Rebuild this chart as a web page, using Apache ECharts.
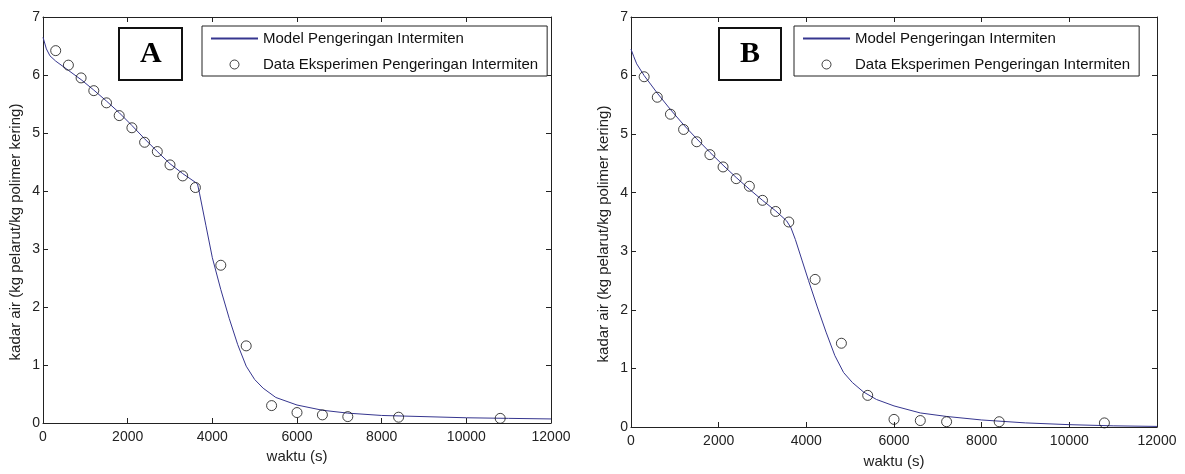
<!DOCTYPE html>
<html>
<head>
<meta charset="utf-8">
<script src="https://cdn.jsdelivr.net/npm/echarts@6.0.0/dist/echarts.min.js"></script>
<style>
  html, body { margin: 0; padding: 0; background: #fff; }
  #chart { width: 1185px; height: 474px; }
</style>
</head>
<body>
<div id="chart"></div>
<script>
// experiment data (same sampling times for A and B)
const dataTime = [300, 600, 900, 1200, 1500, 1800, 2100, 2400, 2700, 3000, 3300, 3600, 4200, 4800, 5400, 6000, 6600, 7200, 8400, 10800]
const dataA = [6.42, 6.17, 5.95, 5.73, 5.52, 5.30, 5.09, 4.84, 4.68, 4.45, 4.26, 4.06, 2.72, 1.33, 0.30, 0.18, 0.14, 0.11, 0.10, 0.08]
const dataB = [5.98, 5.63, 5.34, 5.08, 4.87, 4.65, 4.44, 4.24, 4.11, 3.87, 3.68, 3.50, 2.52, 1.43, 0.54, 0.13, 0.11, 0.09, 0.09, 0.07]

// model curves
const modelTimeA = [0, 80, 165, 300, 600, 900, 1200, 1500, 1800, 2100, 2400, 2700, 3000, 3300, 3600, 3650, 3700, 3850, 4000, 4200, 4400, 4600, 4800, 5000, 5200, 5500, 6000, 6600, 7200, 8000, 9000, 10000, 11000, 12000]
const modelA = [6.65, 6.45, 6.33, 6.24, 6.08, 5.92, 5.74, 5.55, 5.35, 5.13, 4.90, 4.68, 4.47, 4.30, 4.15, 4.12, 3.95, 3.40, 2.85, 2.30, 1.80, 1.35, 0.98, 0.75, 0.60, 0.44, 0.31, 0.22, 0.17, 0.13, 0.11, 0.09, 0.08, 0.07]
const modelTimeB = [0, 60, 130, 300, 600, 900, 1200, 1500, 1800, 2100, 2400, 2700, 3000, 3300, 3550, 3650, 3750, 3900, 4050, 4250, 4450, 4650, 4850, 5050, 5300, 5600, 6000, 6600, 7200, 8000, 9000, 10000, 11000, 12000]
const modelB = [6.45, 6.33, 6.20, 6.00, 5.70, 5.42, 5.16, 4.92, 4.69, 4.47, 4.26, 4.06, 3.87, 3.69, 3.52, 3.40, 3.20, 2.85, 2.50, 2.05, 1.62, 1.22, 0.93, 0.76, 0.60, 0.47, 0.36, 0.24, 0.18, 0.12, 0.07, 0.04, 0.02, 0.01]

const panelLabels = ['A', 'B']
const modelName = 'Model Pengeringan Intermiten'
const dataName = 'Data Eksperimen Pengeringan Intermiten'
const xName = 'waktu (s)'
const yName = 'kadar air (kg pelarut/kg polimer kering)'

const pairs = (xs, ys) => xs.map((x, i) => [x, ys[i]])

const font = 'Liberation Sans, Arial, sans-serif'
const lineColor = '#36368f'
const textColor = '#222'

const chart = echarts.init(document.getElementById('chart'))

const grids = [
  { left: 43, top: 17, width: 508, height: 406 },
  { left: 631, top: 17, width: 526, height: 413 }
]

const nameStyle = { color: textColor, fontSize: 15, fontFamily: font }

const baseX = (gridIndex, position, showLabel) => ({
  type: 'value',
  gridIndex,
  position,
  min: 0,
  max: 12000,
  interval: 2000,
  axisLine: { show: true, onZero: false, lineStyle: { color: '#222', width: 1 } },
  axisTick: { show: true, inside: true, length: 5, lineStyle: { color: '#222' } },
  splitLine: { show: false },
  axisLabel: { show: showLabel, color: textColor, fontSize: 14, fontFamily: font, margin: 7, formatter: v => String(v) }
})

const baseY = (gridIndex, position, showLabel) => ({
  type: 'value',
  gridIndex,
  position,
  min: 0,
  max: 7,
  interval: 1,
  axisLine: { show: true, onZero: false, lineStyle: { color: '#222', width: 1 } },
  axisTick: { show: true, inside: true, length: 5, lineStyle: { color: '#222' } },
  splitLine: { show: false },
  axisLabel: { show: showLabel, color: textColor, fontSize: 14, fontFamily: font, margin: 3 }
})

const xAxes = [
  Object.assign(baseX(0, 'bottom', true), { name: xName, nameLocation: 'middle', nameGap: 24, nameTextStyle: nameStyle }),
  Object.assign(baseX(1, 'bottom', true), { name: xName, nameLocation: 'middle', nameGap: 27, nameTextStyle: nameStyle }),
  baseX(0, 'top', false),
  baseX(1, 'top', false)
]

// y names sit a little below the axis middle in the original
const yNameStyle = Object.assign({ padding: [0, 24, 0, 0] }, nameStyle)

const yAxes = [
  Object.assign(baseY(0, 'left', true), { name: yName, nameLocation: 'middle', nameRotate: 90, nameGap: 20, nameTextStyle: yNameStyle }),
  Object.assign(baseY(1, 'left', true), { name: yName, nameLocation: 'middle', nameRotate: 90, nameGap: 20, nameTextStyle: yNameStyle }),
  baseY(0, 'right', false),
  baseY(1, 'right', false)
]

const legendBase = {
  orient: 'vertical',
  selectedMode: false,
  itemWidth: 47,
  itemHeight: 9,
  itemGap: 11,
  backgroundColor: '#fff',
  borderColor: '#222',
  borderWidth: 1,
  padding: [5, 9, 4, 8],
  textStyle: { color: '#111', fontSize: 15, fontFamily: font, lineHeight: 15 },
  data: [
    { name: modelName, itemStyle: { color: 'rgba(0,0,0,0)', borderWidth: 0, opacity: 0 } },
    { name: dataName, itemStyle: { color: 'rgba(0,0,0,0)', borderColor: '#111', borderWidth: 1 } }
  ]
}

const titleBase = {
  borderColor: '#111',
  borderWidth: 2,
  padding: [11, 21, 11, 21],
  backgroundColor: '#fff',
  textStyle: { color: '#000', fontSize: 30, fontWeight: 'bold', fontFamily: 'Liberation Serif, Times New Roman, serif' }
}

const lineSeries = (i, xs, ys) => ({
  name: modelName,
  type: 'line',
  xAxisIndex: i,
  yAxisIndex: i,
  data: pairs(xs, ys),
  symbol: 'none',
  smooth: false,
  lineStyle: { color: lineColor, width: 1 },
  itemStyle: { color: lineColor },
  z: 2
})

const scatterSeries = (i, xs, ys) => ({
  name: dataName,
  type: 'scatter',
  xAxisIndex: i,
  yAxisIndex: i,
  data: pairs(xs, ys),
  symbol: 'circle',
  symbolSize: 10,
  itemStyle: { color: 'rgba(0,0,0,0)', borderColor: '#111', borderWidth: 1 },
  z: 3
})

const option = {
  animation: false,
  backgroundColor: '#fff',
  grid: grids,
  xAxis: xAxes,
  yAxis: yAxes,
  title: [
    Object.assign({ text: panelLabels[0], left: 119, top: 28 }, titleBase),
    Object.assign({ text: panelLabels[1], left: 719, top: 28 }, titleBase)
  ],
  legend: [
    Object.assign({ left: 202, top: 26 }, legendBase),
    Object.assign({ left: 794, top: 26 }, legendBase)
  ],
  series: [
    lineSeries(0, modelTimeA, modelA),
    scatterSeries(0, dataTime, dataA),
    lineSeries(1, modelTimeB, modelB),
    scatterSeries(1, dataTime, dataB)
  ]
}

chart.setOption(option)
</script>
</body>
</html>
